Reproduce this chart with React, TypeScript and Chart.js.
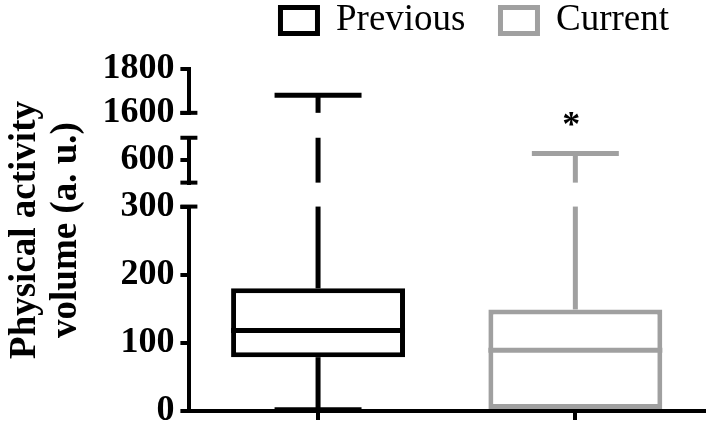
import { useEffect, useRef } from 'react';
import { Chart, registerables } from 'chart.js';

Chart.register(...registerables);

// ---- data ----
const categories = ['Previous', 'Current'];
const seriesLabels = ['Previous', 'Current'];
const mins = [2, 0];
const q1s = [79, 0];
const medians = [118, 89];
const q3s = [180, 149];
const maxs = [1680, 630];
const significance = ['', '*'];
const lowRange = [0, 300];
const midRange = [500, 700];
const highRange = [1600, 1800];
const lowTicks = [0, 100, 200, 300];
const midTicks = [600];
const highTicks = [1600, 1800];
const yTitle = ['Physical activity', 'volume (a. u.)'];

const colors = ['#000000', '#a0a0a0'];
const FONT = "'Liberation Serif', 'Times New Roman', serif";

const boxExtras = {
  id: 'boxExtras',
  afterDatasetsDraw(chart: any) {
    const ctx = chart.ctx;
    const segs = ['y0', 'y1', 'y2'].map((id) => chart.scales[id]);
    const segFor = (v: number) => segs.find((s: any) => v >= s.min && v <= s.max) || segs[0];
    const vline = (x: number, a: number, b: number) => {
      const lo0 = Math.min(a, b);
      const hi0 = Math.max(a, b);
      for (const s of segs) {
        const lo = Math.max(lo0, s.min);
        const hi = Math.min(hi0, s.max);
        if (lo < hi) {
          ctx.beginPath();
          ctx.moveTo(x, s.getPixelForValue(lo));
          ctx.lineTo(x, s.getPixelForValue(hi));
          ctx.stroke();
        }
      }
    };
    const hline = (x: number, half: number, v: number) => {
      const y = segFor(v).getPixelForValue(v);
      ctx.beginPath();
      ctx.moveTo(x - half, y);
      ctx.lineTo(x + half, y);
      ctx.stroke();
      return y;
    };
    ctx.save();
    ctx.lineCap = 'butt';
    chart.data.datasets.forEach((ds: any, i: number) => {
      const meta = chart.getDatasetMeta(i);
      const el = meta.data[i];
      if (!el) return;
      const { x, width } = el.getProps(['x', 'width'], true);
      ctx.strokeStyle = colors[i];
      ctx.lineWidth = 5;
      hline(x, width / 2, medians[i]);
      vline(x, q3s[i], maxs[i]);
      const capY = hline(x, width / 4, maxs[i]);
      if (mins[i] < q1s[i]) {
        vline(x, mins[i], q1s[i]);
        hline(x, width / 4, mins[i]);
      }
      if (significance[i]) {
        ctx.fillStyle = '#000';
        ctx.font = `bold 36px ${FONT}`;
        ctx.textAlign = 'center';
        ctx.textBaseline = 'alphabetic';
        ctx.fillText(significance[i], x - 4, capY - 17);
      }
    });
    const ax = chart.chartArea.left;
    ctx.strokeStyle = '#000';
    ctx.lineWidth = 4;
    const caps = [
      chart.scales.y0.getPixelForValue(lowRange[1]),
      chart.scales.y1.getPixelForValue(midRange[0]),
      chart.scales.y1.getPixelForValue(midRange[1]),
      chart.scales.y2.getPixelForValue(highRange[0]),
    ];
    caps.forEach((y) => {
      ctx.beginPath();
      ctx.moveTo(ax - 9, y);
      ctx.lineTo(ax + 8, y);
      ctx.stroke();
    });
    ctx.restore();
  },
};

const segAxis = (range: number[], ticks: number[], weight: number, stackWeight: number) => ({
  type: 'linear' as const,
  position: 'left' as const,
  stack: 'y',
  stackWeight,
  weight,
  min: range[0],
  max: range[1],
  afterBuildTicks: (scale: any) => {
    scale.ticks = ticks.map((v) => ({ value: v }));
  },
  border: { display: true, color: '#000', width: 4 },
  grid: {
    drawOnChartArea: false,
    drawTicks: true,
    tickLength: 9,
    lineWidth: 4,
    color: '#000',
  },
  ticks: {
    autoSkip: false,
    color: '#000',
    padding: 6,
    callback: (v: any) => `${v}`,
    font: { family: FONT, size: 36, weight: 'bold' as const, lineHeight: 0.5 },
  },
});

const gapAxis = (weight: number, stackWeight: number) => ({
  type: 'linear' as const,
  position: 'left' as const,
  stack: 'y',
  stackWeight,
  weight,
  display: false,
});

export default function App() {
  const ref = useRef<HTMLCanvasElement>(null);

  useEffect(() => {
    if (!ref.current) return;
    const datasets = seriesLabels.map((label, i) => ({
      label,
      data: categories.map((_, j) => (j === i ? [q1s[i], q3s[i]] : null)),
      backgroundColor: '#ffffff',
      borderColor: colors[i],
      borderWidth: 5,
      borderSkipped: false,
      yAxisID: 'y0',
      grouped: false,
      categoryPercentage: 0.676,
      barPercentage: 1,
    }));

    const chart = new Chart(ref.current, {
      type: 'bar',
      data: { labels: categories, datasets: datasets as any },
      options: {
        animation: false,
        responsive: true,
        maintainAspectRatio: false,
        layout: { padding: { top: -33, left: 0, right: 5, bottom: 8 } },
        plugins: {
          tooltip: { enabled: false },
          legend: {
            display: true,
            position: 'top',
            align: 'end',
            labels: {
              boxWidth: 37,
              boxHeight: 26,
              padding: 35,
              color: '#000',
              font: { family: FONT, size: 37 },
            },
          },
        },
        scales: {
          x: {
            type: 'category',
            offset: true,
            border: { display: true, color: '#000', width: 4 },
            grid: {
              offset: false,
              drawOnChartArea: false,
              drawTicks: true,
              tickLength: 9,
              lineWidth: 4,
              color: '#000',
            },
            ticks: { display: false },
          },
          yTitle: {
            type: 'linear',
            position: 'left',
            weight: 10,
            display: true,
            border: { display: false },
            grid: { display: false, drawTicks: false },
            ticks: { display: false },
            title: {
              display: true,
              text: yTitle,
              color: '#000',
              font: { family: FONT, size: 37, weight: 'bold', lineHeight: 1.1 },
              padding: { top: 5, bottom: 15 },
            },
          },
          gTop: gapAxis(6, 20),
          y2: segAxis(highRange, highTicks, 5, 44),
          gB: gapAxis(4, 25),
          y1: segAxis(midRange, midTicks, 3, 45),
          gA: gapAxis(2, 24),
          y0: segAxis(lowRange, lowTicks, 1, 205),
        } as any,
      },
      plugins: [boxExtras],
    });
    return () => chart.destroy();
  }, []);

  return (
    <div style={{ position: 'fixed', left: 0, top: 0, width: 709, height: 428, background: '#fff' }}>
      <canvas ref={ref} />
    </div>
  );
}
